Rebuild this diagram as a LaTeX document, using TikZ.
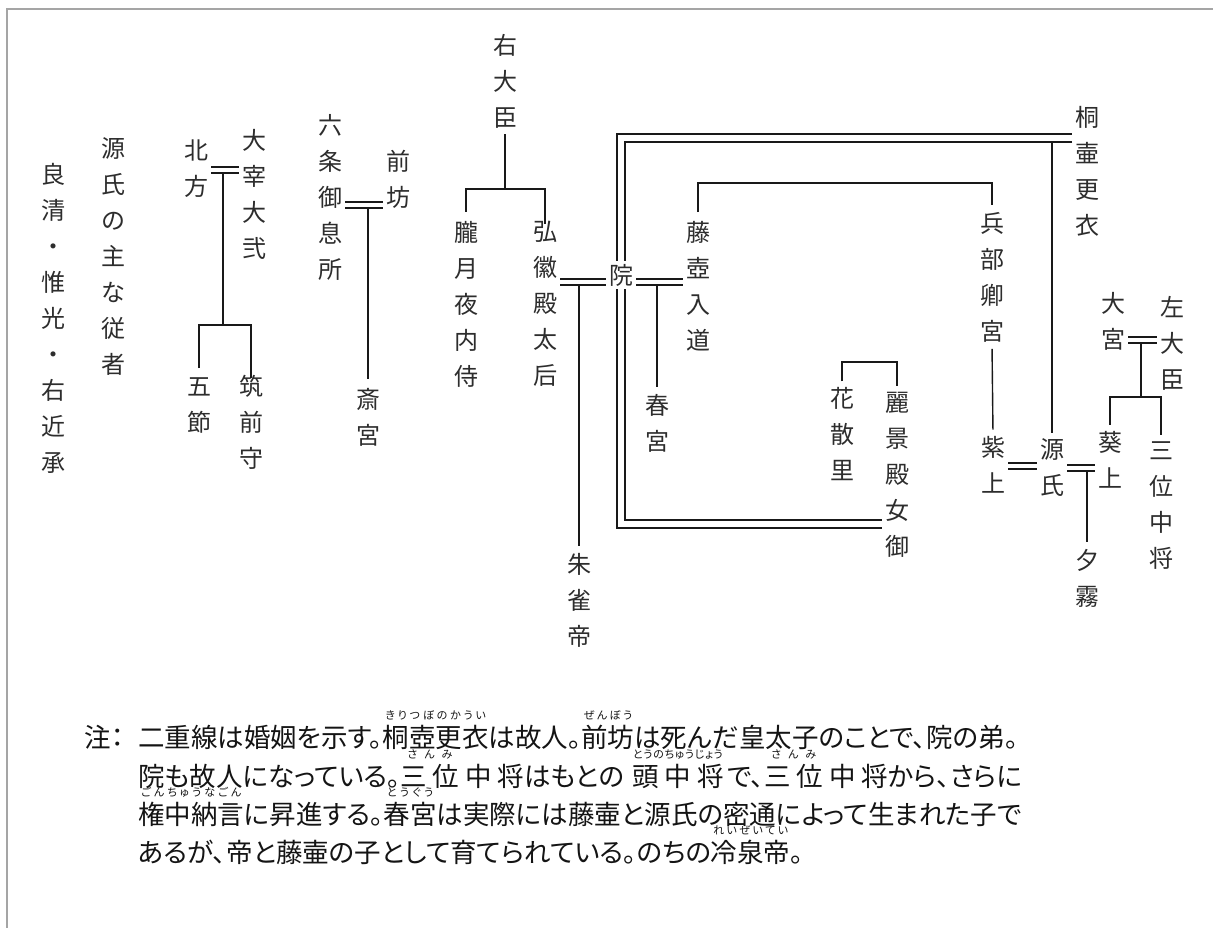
\documentclass[tikz,border=0pt]{standalone}
\usepackage{fontspec}
\setmainfont{Noto Sans CJK JP}
\newfontfamily\notefont[RawFeature=+palt]{Noto Sans CJK JP}
\usetikzlibrary{calc}
\definecolor{txt}{RGB}{45,45,45}
\definecolor{frame}{RGB}{165,165,165}
\newdimen\rbw
\def\kend{\kend}
\def\kspread#1{\ifx#1\kend\else#1\hss\expandafter\kspread\fi}
\newcommand\myruby[2]{%
  \setbox0\hbox{#1}\setbox2\hbox{\fontsize{11}{11}\selectfont\hss\kspread#2\kend}%
  \rbw=\wd0 \ifdim\wd2>\rbw \rbw=\wd2 \fi
  \hbox to\rbw{\raise27.5pt\hbox to\rbw{\unhbox2}}\kern-\rbw\hbox to\rbw{\hss\box0\hss}}
\newcommand\spc{\kern6pt}
\tikzset{
  vl/.style={inner sep=0pt, outer sep=3pt, align=center, text=txt,
    font=\fontsize{24}{36}\selectfont},
  ln/.style={line width=1.4pt, draw=black!90},
  mar/.style={line width=1.4pt, draw=black!90, double=white, double distance=4.6pt},
  rect/.style={line width=1.4pt, draw=black!90, double=white, double distance=6.6pt},
  nt/.style={inner sep=0pt, anchor=base west, text=black!92,
    font=\notefont\fontsize{26.5}{26.5}\selectfont}
}
\begin{document}
\begin{tikzpicture}[x=1pt,y=-1pt]
\useasboundingbox (0,0) rectangle (1213,928);
\fill[white] (0,0) rectangle (1213,928);
\draw[frame, line width=2pt] (7,928) -- (7,9) -- (1213,9);

% labels
\node[vl] (yk) at (53,318) {良\\清\\・\\惟\\光\\・\\右\\近\\承};
\node[vl] (gz) at (113,256) {源\\氏\\の\\主\\な\\従\\者};
\node[vl] (kt) at (196,169) {北\\方};
\node[vl] (dz) at (254,194) {大\\宰\\大\\弐};
\node[vl] (gs) at (199,405) {五\\節};
\node[vl] (cz) at (251,422) {筑\\前\\守};
\node[vl] (rj) at (330,197) {六\\条\\御\\息\\所};
\node[vl] (zb) at (398,179) {前\\坊};
\node[vl] (sg) at (368,417) {斎\\宮};
\node[vl] (ud) at (505,81) {右\\大\\臣};
\node[vl] (og) at (466,304) {朧\\月\\夜\\内\\侍};
\node[vl] (kk) at (545,304) {弘\\徽\\殿\\太\\后};
\node[vl] (in) at (621,275) {院};
\node[vl] (sz) at (579,600) {朱\\雀\\帝};
\node[vl] (tg) at (657,423) {春\\宮};
\node[vl] (fj) at (698,286) {藤\\壺\\入\\道};
\node[vl] (kr) at (1087,171) {桐\\壷\\更\\衣};
\node[vl] (hb) at (992,277) {兵\\部\\卿\\宮};
\node[vl] (hc) at (842,434) {花\\散\\里};
\node[vl] (rk) at (897,475) {麗\\景\\殿\\女\\御};
\node[vl] (mu) at (993,465) {紫\\上};
\node[vl] (gj) at (1052,468) {源\\氏};
\node[vl] (aoi) at (1110,460) {葵\\上};
\node[vl] (yg) at (1087,578) {夕\\霧};
\node[vl] (sm) at (1161,506) {三\\位\\中\\将};
\node[vl] (om) at (1113,321) {大\\宮};
\node[vl] (sd) at (1172,343) {左\\大\\臣};

% level coordinates
\coordinate (y1) at (0,170);
\coordinate (j1) at (223,325);
\coordinate (y2) at (0,205);
\coordinate (j2) at (505,189);
\coordinate (y3) at (0,282);
\coordinate (y4) at (0,138);
\coordinate (y5) at (0,524);
\coordinate (y6) at (0,183);
\coordinate (y7) at (0,466);
\coordinate (y8) at (0,468);
\coordinate (y9) at (0,340);
\coordinate (j3) at (1141,397);
\coordinate (y10) at (0,362);

% single lines (drawn first)
\draw[ln] (j1 |- y1) -- (j1);
\draw[ln, shorten <=6pt] (gs.north) |- (j1) -| ([yshift=-6pt]cz.north);
\draw[ln, shorten >=6pt] (sg.north |- y2) -- (sg.north);
\draw[ln, shorten <=3pt] (ud.south) -- (j2);
\draw[ln, shorten <=6pt] (og.north) |- (j2) -| ([yshift=-6pt]kk.north);
\draw[ln, shorten >=4pt] (sz.north |- y3) -- (sz.north);
\draw[ln, shorten >=4pt] (tg.north |- y3) -- (tg.north);
\draw[ln, shorten >=3pt] (gj.north |- y4) -- (gj.north);
\draw[ln, shorten <=6pt, shorten >=4pt] (fj.north) |- (hb.north |- y6) -- (hb.north);
\draw[ln, shorten <=4pt, shorten >=4pt] (hb.south) -- (mu.north);
\draw[ln, shorten >=4pt] (yg.north |- y8) -- (yg.north);
\draw[ln] (j3 |- y9) -- (j3);
\draw[ln, shorten <=4pt, shorten >=4pt] (aoi.north) |- (j3) -| (sm.north);
\draw[ln, shorten <=3pt, shorten >=3pt] (hc.north) |- (rk.north |- y10) -- (rk.north);

% marriages
\draw[mar] (kt.east |- y1) -- (dz.west |- y1);
\draw[mar] (rj.east |- y2) -- (zb.west |- y2);
\draw[mar] (kk.east |- y3) -- (in.west |- y3);
\draw[mar] (in.east |- y3) -- (fj.west |- y3);
\draw[mar] (mu.east |- y7) -- (gj.west |- y7);
\draw[mar] (gj.east |- y8) -- (aoi.west |- y8);
\draw[mar] (om.east |- y9) -- (sd.west |- y9);
\draw[rect] (kr.west |- y4) -| (in.north);
\draw[rect] (in.south) |- (rk.west |- y5);

% note
\node[nt] (n0) at (84,747) {注：};
\node[nt] (n1) at (138,747) {二重線は婚姻を示す。\myruby{桐壺更衣}{きりつぼのかうい}は故人。\myruby{前坊}{ぜんぼう}は死んだ皇太子のことで、院の弟。};
\node[nt] (n2) at (138,786) {院も故人になっている。\myruby{三\spc 位}{さんみ}\spc 中\spc 将はもとの\kern8pt\myruby{頭\spc 中\spc 将}{とうのちゅうじょう}\kern4pt で、\myruby{三\spc 位}{さんみ}\spc 中\spc 将から、さらに};
\node[nt] (n3) at (138,824) {\myruby{権中納言}{ごんちゅうなごん}に昇進する。\myruby{春宮}{とうぐう}は実際には藤壷と源氏の密通によって生まれた子で};
\node[nt] (n4) at (138,862) {あるが、帝と藤壷の子として育てられている。のちの\myruby{冷泉帝}{れいぜいてい}。};
\end{tikzpicture}
\end{document}
